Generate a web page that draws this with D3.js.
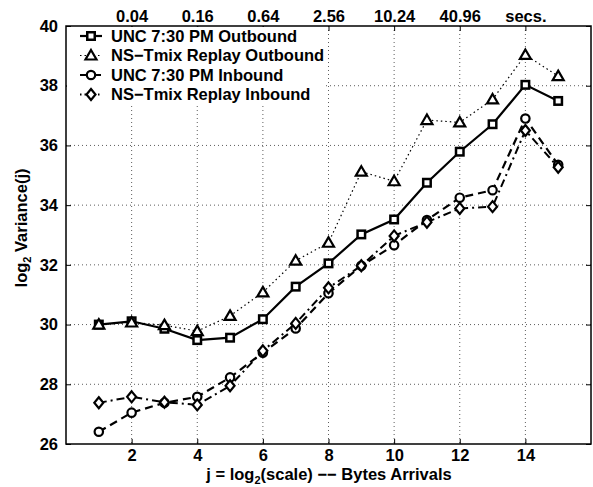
<!DOCTYPE html>
<html><head><meta charset="utf-8">
<script src="https://cdn.jsdelivr.net/npm/d3@7"></script>
<style>body{margin:0;background:#fff}svg{display:block}svg text{font-family:"Liberation Sans",Arimo,Arial,sans-serif !important;font-weight:700 !important}</style>
</head><body><svg id="c" width="593" height="487"></svg>
<script>
const j = [1,2,3,4,5,6,7,8,9,10,11,12,13,14,15];
const uncOut  = [30.00,30.11,29.86,29.48,29.56,30.18,31.27,32.05,33.02,33.52,34.75,35.79,36.71,38.03,37.49];
const tmixOut = [30.00,30.07,29.98,29.78,30.29,31.08,32.14,32.74,35.12,34.80,36.85,36.77,37.54,39.03,38.32];
const uncIn   = [26.41,27.05,27.38,27.58,28.23,29.06,29.87,31.05,31.97,32.66,33.50,34.25,34.50,36.90,35.35];
const tmixIn  = [27.38,27.58,27.40,27.31,27.95,29.12,30.04,31.23,31.97,32.97,33.43,33.89,33.95,36.50,35.27];
const seriesNames = ["UNC 7:30 PM Outbound","NS\u2212Tmix Replay Outbound","UNC 7:30 PM Inbound","NS\u2212Tmix Replay Inbound"];
const xTicks = [2,4,6,8,10,12,14];
const yTicks = [26,28,30,32,34,36,38,40];
const topLabels = ["0.04","0.16","0.64","2.56","10.24","40.96","secs."];

const svg = d3.select("#c");
const L=66,R=591,T=26,B=444;
const x = d3.scaleLinear().domain([0,16]).range([L,R]);
const y = d3.scaleLinear().domain([26,40]).range([B,T]);

// grid
const g = svg.append("g");
g.selectAll(".gx").data(xTicks).join("line").attr("x1",d=>x(d)).attr("x2",d=>x(d)).attr("y1",T).attr("y2",B)
 .attr("stroke","#333").attr("stroke-width",0.8).attr("stroke-dasharray","1,3");
g.selectAll(".gy").data(yTicks.filter(d=>d>26&&d<40)).join("line").attr("y1",d=>y(d)).attr("y2",d=>y(d)).attr("x1",L).attr("x2",R)
 .attr("stroke","#333").attr("stroke-width",0.8).attr("stroke-dasharray","1,3");

// axes
const fs=16.5;
const ax = svg.append("g").attr("transform",`translate(0,${B})`).call(d3.axisBottom(x).tickValues(xTicks).tickSizeInner(-5).tickSizeOuter(0).tickPadding(5));
const ax2 = svg.append("g").attr("transform",`translate(0,${T})`).call(d3.axisTop(x).tickValues(xTicks).tickFormat((d,i)=>topLabels[i]).tickSizeInner(-5).tickSizeOuter(0).tickPadding(4));
const ay = svg.append("g").attr("transform",`translate(${L},0)`).call(d3.axisLeft(y).tickValues(yTicks).tickSizeInner(-5).tickSizeOuter(0).tickPadding(8));
const ay2 = svg.append("g").attr("transform",`translate(${R},0)`).call(d3.axisRight(y).tickValues(yTicks).tickFormat("").tickSizeInner(-5).tickSizeOuter(0));
[ax,ax2,ay,ay2].forEach(a=>{a.select(".domain").remove();a.selectAll("line").attr("stroke","#000").attr("stroke-width",1);
  a.attr("font-family",null).attr("font-size",null);
  a.selectAll("text").attr("font-size",fs).attr("fill","#000");});
svg.append("rect").attr("x",L).attr("y",T).attr("width",R-L).attr("height",B-T).attr("fill","none").attr("stroke","#000").attr("stroke-width",1.5);

// series
const styles = [
 {data:uncOut, dash:null, w:2.2, m:"square"},
 {data:tmixOut, dash:"1.5,3", w:1.2, m:"triangle"},
 {data:uncIn, dash:"8,5", w:2.2, m:"circle"},
 {data:tmixIn, dash:"8,4,2,4", w:2, m:"diamond"}
];
const line = d3.line().x((d,i)=>x(j[i])).y(d=>y(d));
function marker(sel, type, cx, cy){
  if(type==="square") sel.append("rect").attr("x",cx-3.75).attr("y",cy-3.75).attr("width",7.5).attr("height",7.5).attr("fill","#fff").attr("stroke","#000").attr("stroke-width",2.5);
  else if(type==="circle") sel.append("circle").attr("cx",cx).attr("cy",cy).attr("r",4.2).attr("fill","#fff").attr("stroke","#000").attr("stroke-width",2.2);
  else if(type==="triangle") sel.append("path").attr("d",`M${cx},${cy-5.5}L${cx+5.5},${cy+4}L${cx-5.5},${cy+4}Z`).attr("fill","#fff").attr("stroke","#000").attr("stroke-width",2.2);
  else sel.append("path").attr("d",`M${cx},${cy-5.5}L${cx+4.5},${cy}L${cx},${cy+5.5}L${cx-4.5},${cy}Z`).attr("fill","#fff").attr("stroke","#000").attr("stroke-width",2.2);
}
styles.forEach(s=>{
  svg.append("path").datum(s.data).attr("d",line).attr("fill","none").attr("stroke","#000").attr("stroke-width",s.w)
    .attr("stroke-dasharray",s.dash);
});
styles.forEach(s=>{
  const mg=svg.append("g");
  s.data.forEach((v,i)=>marker(mg,s.m,x(j[i]),y(v)));
});

// legend
const lg = svg.append("g");
lg.append("rect").attr("x",L+1).attr("y",T+1).attr("width",258).attr("height",76).attr("fill","#fff");
const rowY=[36,55.5,75,94.5];
styles.forEach((s,i)=>{
  lg.append("line").attr("x1",80).attr("x2",102).attr("y1",rowY[i]).attr("y2",rowY[i]).attr("stroke","#000")
    .attr("stroke-width",s.w).attr("stroke-dasharray",s.dash===null?null:(s.m==="circle"?"8,5":"1.5,3"));
  marker(lg,s.m,91,rowY[i]);
  lg.append("text").attr("x",111).attr("y",rowY[i]+5.5).attr("font-size",fs).text(seriesNames[i]);
});

// axis titles
const xt = svg.append("text").attr("x",329).attr("y",479.5).attr("text-anchor","middle").attr("font-size",fs);
xt.append("tspan").text("j = log");
xt.append("tspan").attr("font-size",11).attr("dy",4).text("2");
xt.append("tspan").attr("dy",-4).text("(scale) \u2212\u2212 Bytes Arrivals");
const yt = svg.append("text").attr("transform","translate(27,228) rotate(-90)").attr("text-anchor","middle").attr("font-size",fs);
yt.append("tspan").text("log");
yt.append("tspan").attr("font-size",11).attr("dy",4).text("2");
yt.append("tspan").attr("dy",-4).text(" Variance(j)");
</script></body></html>
